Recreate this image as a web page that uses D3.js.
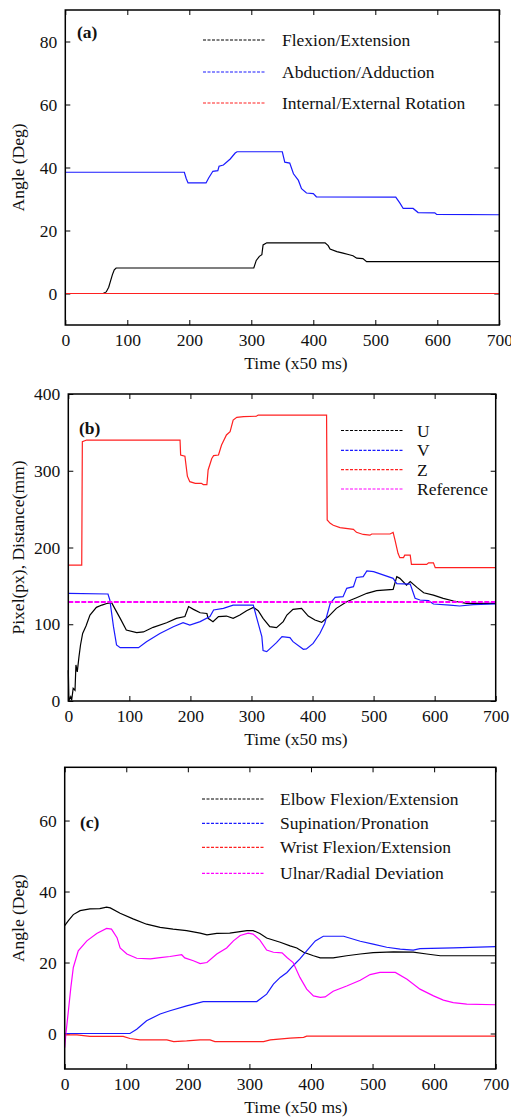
<!DOCTYPE html>
<meta charset="utf-8">
<script src="https://d3js.org/d3.v7.min.js"></script>
<style>
  body { margin: 0; background: #fff; }
  svg text { font-family: "Liberation Serif", "Times New Roman", serif; fill: #111; }
</style>
<svg id="chart" width="511" height="1117"></svg>
<script>

// ---- panel (a): shoulder angles, [time, deg]
var aFlexion = [[0,0],[61,0],[66,0.5],[70,2],[73,4],[76,6],[79,7.5],[82,8.1],[304,8.1],[308,10.5],[313,11.8],[317,12.3],[319,15.4],[325,16.1],[419,16.1],[424,15.2],[427,14.1],[438,13.3],[448,12.8],[458,12.3],[464,12],[470,11.2],[480,11.1],[486,10.1],[700,10.1]];
var aAbduction = [[0,38.5],[192,38.5],[195,36.5],[198,35.1],[227,35.1],[231,36.6],[238,38.8],[246,39],[248,40.4],[255,40.8],[266,42.7],[274,44.6],[277,45],[350,45],[354,41.7],[362,41.4],[368,38],[376,35.9],[381,33.3],[389,31.9],[400,31.7],[405,30.7],[533,30.6],[540,28.6],[545,27],[561,27],[569,25.7],[596,25.6],[599,25.1],[700,25]];
var aRotation = [[0,0],[700,0]];

// ---- panel (b): image coordinates and distance
var bU = [[0,40],[1,1],[4,5.6],[5.5,1],[8,16.5],[11,14],[12.5,47],[14.7,38],[17.5,57.8],[20,73],[23.5,88],[29,97.7],[35.5,112],[46,122],[55,125],[63,127],[71,128],[76,120.7],[85,107.7],[95,92.5],[112,89],[123,90],[139,96],[161,102],[177,107.7],[191,110],[197,123],[205,119.4],[216,115],[227,114],[229,107.7],[237,103.4],[246,110],[259,110.7],[270,107.7],[281,112],[292,117.7],[303,122],[311,117.7],[319,107.7],[330,96.8],[341,95.5],[352,103.4],[358,112],[368,119.4],[382,120.7],[393,110.7],[404,105.5],[415,102.5],[426,110],[439,120.7],[456,129.4],[472,134.6],[489,140.3],[505,143.8],[532,145.5],[538,162],[543,159.8],[554,151],[560,155.5],[571,148],[582,141],[598,138],[614,133.8],[631,130.3],[652,127.3],[674,127.3],[700,127.3]];
var bV = [[0,140.3],[65,139.4],[68,131.6],[74,96.8],[79,73],[85,69.5],[115,69.5],[128,77.3],[150,88],[172,96.8],[188,102],[199,99],[216,103.4],[232,110],[238,118.6],[254,120.7],[270,125],[303,125],[308,110],[317,83.8],[319,65.6],[325,64.3],[341,76],[350,83.8],[363,82.5],[368,77.3],[385,67.3],[390,67.8],[401,75],[412,88],[420,101],[429,127.3],[437,135],[450,136],[456,146.8],[467,149],[472,161],[483,162],[489,169.4],[500,168.5],[532,159.8],[538,153],[560,152.4],[568,133.8],[576,131.6],[590,130.7],[598,126.4],[625,125],[641,123.8],[663,125.5],[700,126.4]];
var bZ = [[0,177],[22,177],[23,338],[30,340],[183,340],[184,320.5],[191,319],[195,293],[199,285.8],[208,283.6],[218,283.6],[221,282],[227,282],[229,301],[235,316],[238,319.7],[246,320.5],[251,333.5],[259,346.6],[265,351],[270,366],[276,369.6],[287,370.5],[308,371],[311,372.6],[423,372.6],[424,235.8],[429,231.5],[434,229],[445,226],[467,223.7],[472,219.8],[483,217],[494,216],[497,217.6],[527,217.6],[532,219.8],[535,209.8],[540,192.4],[543,186.8],[549,186.8],[551,190],[560,190],[562,178],[587,178],[590,180],[598,180],[601,173.7],[700,173.7]];
var bReference = [[0,129],[700,129]];

// ---- panel (c): elbow and wrist angles
var cElbow = [[0,30.4],[6,31.8],[14,33.5],[25,34.6],[41,35.1],[57,35.2],[68,35.6],[74,35.4],[90,33.9],[111,32.3],[133,30.8],[155,29.9],[176,29.4],[198,29],[220,28.3],[231,27.8],[247,28.2],[268,28.3],[296,29],[306,29],[317,28.2],[328,26.9],[350,25.7],[366,24.7],[377,24.1],[388,22.9],[404,21.9],[415,21.3],[436,21.3],[458,21.9],[480,22.4],[501,22.8],[534,23],[566,22.9],[588,22.4],[610,21.9],[700,21.9]];
var cSupination = [[0,0],[106,0],[117,1.2],[133,3.6],[155,5.5],[171,6.4],[198,7.8],[225,9],[312,9],[328,11.1],[339,13.9],[350,15.8],[361,17.2],[371,19.1],[382,21],[393,23.3],[407,26.1],[420,27.4],[453,27.4],[480,26],[501,25.2],[523,24.3],[545,23.8],[566,23.5],[577,23.9],[631,24.1],[700,24.5]];
var cWrist = [[0,-0.4],[20,-0.4],[41,-0.8],[95,-0.8],[106,-1.4],[122,-1.8],[166,-1.8],[177,-2.3],[198,-2.1],[220,-1.8],[236,-1.8],[244,-2.3],[323,-2.3],[334,-1.8],[366,-1.3],[388,-1.1],[393,-0.75],[700,-0.75]];
var cUlnar = [[0,-4],[2,0],[6,6.4],[10,13],[14,18.6],[22,23.3],[36,26.1],[52,28.2],[68,29.6],[76,29.4],[85,27],[90,24.1],[101,22.4],[117,21.2],[139,21],[155,21.4],[171,21.7],[190,22.2],[195,21.3],[209,20.5],[220,19.7],[231,20],[247,22.4],[263,24.1],[274,26.1],[285,27.6],[298,28.3],[306,28],[317,26.3],[328,23.5],[339,22.9],[353,22.7],[361,21.4],[371,20],[382,15.8],[393,12.5],[404,10.6],[415,10.2],[423,10.3],[436,11.9],[458,13.4],[480,15],[496,16.6],[512,17.2],[537,17.2],[556,15.3],[577,12.5],[599,10.6],[615,9.4],[631,8.7],[653,8.3],[700,8.1]];

var xTicks = [0, 100, 200, 300, 400, 500, 600, 700];
var aTicks = [0, 20, 40, 60, 80];
var bTicks = [0, 100, 200, 300, 400];
var cTicks = [0, 20, 40, 60];

var svg = d3.select("#chart");

var panels = [
  { left: 65.3, right: 499.3, top: 10, bottom: 325, yDomain: [-10, 90], yTicks: aTicks,
    yTitle: "Angle (Deg)", tag: "(a)", tagX: 77, tagY: 32,
    legX: 203, legY: [40, 72, 103], legGap: 17,
    series: [
      { name: "Flexion/Extension", data: aFlexion, color: "#000000" },
      { name: "Abduction/Adduction", data: aAbduction, color: "#1a1aff" },
      { name: "Internal/External Rotation", data: aRotation, color: "#ff2020" }
    ] },
  { left: 68.3, right: 495.7, top: 394, bottom: 701, yDomain: [0, 400], yTicks: bTicks,
    yTitle: "Pixel(px), Distance(mm)", tag: "(b)", tagX: 79, tagY: 428,
    legX: 341, legY: [430.5, 450.3, 469.7, 489], legGap: 14,
    series: [
      { name: "U", data: bU, color: "#000000" },
      { name: "V", data: bV, color: "#1a1aff" },
      { name: "Z", data: bZ, color: "#ff2020" },
      { name: "Reference", data: bReference, color: "#ff00ff", width: 2, dash: "5,1.5" }
    ] },
  { left: 64.7, right: 495.7, top: 767.3, bottom: 1069, yDomain: [-10, 75], yTicks: cTicks,
    yTitle: "Angle (Deg)", tag: "(c)", tagX: 80, tagY: 822,
    legX: 202, legY: [799, 823.3, 847.3, 873.3], legGap: 16,
    series: [
      { name: "Elbow Flexion/Extension", data: cElbow, color: "#000000" },
      { name: "Supination/Pronation", data: cSupination, color: "#1a1aff" },
      { name: "Wrist Flexion/Extension", data: cWrist, color: "#ff2020" },
      { name: "Ulnar/Radial Deviation", data: cUlnar, color: "#ff00ff" }
    ] }
];

panels.forEach(function(p) {
  var x = d3.scaleLinear().domain([0, 700]).range([p.left, p.right]);
  var y = d3.scaleLinear().domain(p.yDomain).range([p.bottom, p.top]);
  var g = svg.append("g");

  // ticks on all four sides, pointing inwards
  var styleAxis = function(sel) {
    sel.select(".domain").remove();
    sel.selectAll("line").attr("stroke", "#000");
    sel.selectAll("text").style("font-size", "17.5px").style("font-family", "Liberation Serif, serif").attr("fill", "#111");
  };
  g.append("g").attr("transform", "translate(0," + p.bottom + ")")
    .call(d3.axisBottom(x).tickValues(xTicks).tickSize(-5).tickPadding(9).tickFormat(d3.format("d")))
    .call(styleAxis);
  g.append("g").attr("transform", "translate(0," + p.top + ")")
    .call(d3.axisTop(x).tickValues(xTicks).tickSize(-5).tickFormat(""))
    .call(styleAxis);
  g.append("g").attr("transform", "translate(" + p.left + ",0)")
    .call(d3.axisLeft(y).tickValues(p.yTicks).tickSize(-5).tickPadding(8).tickFormat(d3.format("d")))
    .call(styleAxis);
  g.append("g").attr("transform", "translate(" + p.right + ",0)")
    .call(d3.axisRight(y).tickValues(p.yTicks).tickSize(-5).tickFormat(""))
    .call(styleAxis);

  // series
  var line = d3.line().x(function(d) { return x(d[0]); }).y(function(d) { return y(d[1]); });
  p.series.forEach(function(s) {
    g.append("path")
      .datum(s.data)
      .attr("d", line)
      .attr("fill", "none")
      .attr("stroke", s.color)
      .attr("stroke-width", s.width || 1.2)
      .attr("stroke-dasharray", s.dash || null);
  });

  // frame
  g.append("rect")
    .attr("x", p.left).attr("y", p.top)
    .attr("width", p.right - p.left).attr("height", p.bottom - p.top)
    .attr("fill", "none").attr("stroke", "#000").attr("stroke-width", 1.5);

  // legend
  p.series.forEach(function(s, i) {
    g.append("line")
      .attr("x1", p.legX).attr("x2", p.legX + 62)
      .attr("y1", p.legY[i]).attr("y2", p.legY[i])
      .attr("stroke", s.color)
      .attr("stroke-width", 1.2)
      .attr("stroke-dasharray", "3,1.5");
    g.append("text")
      .attr("x", p.legX + 62 + p.legGap).attr("y", p.legY[i])
      .attr("dy", "0.35em")
      .style("font-size", "17.5px")
      .text(s.name);
  });

  // panel tag
  g.append("text")
    .attr("x", p.tagX).attr("y", p.tagY).attr("dy", "0.35em")
    .style("font-size", "17.5px").style("font-weight", "bold")
    .text(p.tag);

  // axis titles
  g.append("text")
    .attr("x", 296).attr("y", p.bottom + 44)
    .attr("text-anchor", "middle")
    .style("font-size", "17.5px")
    .text("Time (x50 ms)");
  g.append("text")
    .attr("transform", "translate(18," + ((p.top + p.bottom) / 2) + ")rotate(-90)")
    .attr("text-anchor", "middle")
    .attr("dy", "0.35em")
    .style("font-size", "17.5px")
    .text(p.yTitle);
});

</script>
